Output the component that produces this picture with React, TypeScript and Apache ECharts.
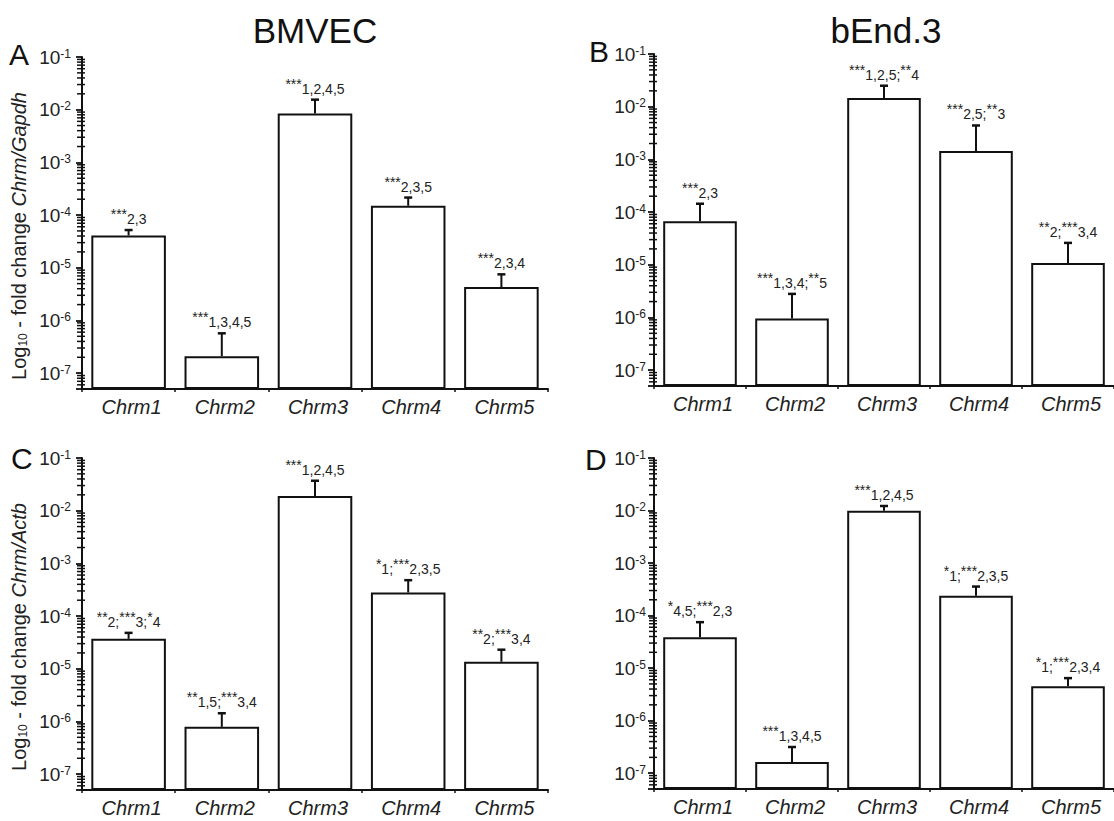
import React, { useEffect, useRef } from 'react';
import * as echarts from 'echarts';

const categories = ['Chrm1', 'Chrm2', 'Chrm3', 'Chrm4', 'Chrm5'];
const yMin = 5e-8;
const yMax = 0.1;
const minorMultipliers = [2, 3, 4, 5, 6, 7, 8, 9];
const decadeExponents = [-8, -7, -6, -5, -4, -3, -2];

// Panel A: BMVEC, Chrm/Gapdh
const meanA = [4.1e-5, 2.1e-7, 8.5e-3, 1.5e-4, 4.3e-6];
const upperA = [5.2e-5, 5.7e-7, 1.55e-2, 2.15e-4, 7.5e-6];
const sigA = ['***2,3', '***1,3,4,5', '***1,2,4,5', '***2,3,5', '***2,3,4'];

// Panel B: bEnd.3, Chrm/Gapdh
const meanB = [6.7e-5, 9.6e-7, 1.46e-2, 1.44e-3, 1.08e-5];
const upperB = [1.44e-4, 2.8e-6, 2.5e-2, 4.4e-3, 2.6e-5];
const sigB = ['***2,3', '***1,3,4;**5', '***1,2,5;**4', '***2,5;**3', '**2;***3,4'];

// Panel C: BMVEC, Chrm/Actb
const meanC = [3.7e-5, 7.9e-7, 1.9e-2, 2.8e-4, 1.36e-5];
const upperC = [4.8e-5, 1.43e-6, 3.7e-2, 4.8e-4, 2.3e-5];
const sigC = ['**2;***3;*4', '**1,5;***3,4', '***1,2,4,5', '*1;***2,3,5', '**2;***3,4'];

// Panel D: bEnd.3, Chrm/Actb
const meanD = [3.85e-5, 1.63e-7, 9.95e-3, 2.38e-4, 4.5e-6];
const upperD = [7.5e-5, 3.15e-7, 1.22e-2, 3.57e-4, 6.45e-6];
const sigD = ['*4,5;***2,3', '***1,3,4,5', '***1,2,4,5', '*1;***2,3,5', '*1;***2,3,4'];

const titles = ['BMVEC', 'bEnd.3'];
const panelLetters = ['A', 'B', 'C', 'D'];
const yTitleRefs = ['Gapdh', 'Actb'];

const FONT = '"Liberation Sans", Arial, Helvetica, sans-serif';
const INK = '#111';
const TXT = '#222';

const panels = [
  { grid: { left: 82, top: 57, width: 466, height: 332 }, mean: meanA, upper: upperA, sig: sigA, labelMargin: 11 },
  { grid: { left: 654, top: 54, width: 466, height: 332 }, mean: meanB, upper: upperB, sig: sigB, labelMargin: 8 },
  { grid: { left: 82, top: 458, width: 466, height: 332 }, mean: meanC, upper: upperC, sig: sigC, labelMargin: 11 },
  { grid: { left: 654, top: 458, width: 466, height: 331 }, mean: meanD, upper: upperD, sig: sigD, labelMargin: 8 },
];

function sigRich(s: string): string {
  return s.replace(/(\*+)|([^*]+)/g, (_m: string, st: string, nu: string) => (st ? `{s|${st}}` : `{n|${nu}}`));
}

const minorValues: number[] = [];
decadeExponents.forEach((e) => {
  minorMultipliers.forEach((m) => {
    const v = m * Math.pow(10, e);
    if (v > yMin * 1.0001 && v < yMax) minorValues.push(v);
  });
});

function buildGraphic(): any[] {
  const graphic: any[] = [];
  graphic.push({ type: 'text', x: 315, y: 30, style: { text: titles[0], fontSize: 35, fontFamily: FONT, fill: INK, align: 'center', verticalAlign: 'middle' } });
  graphic.push({ type: 'text', x: 886, y: 30, style: { text: titles[1], fontSize: 35, fontFamily: FONT, fill: INK, align: 'center', verticalAlign: 'middle' } });
  const letterPos = [
    [9, 54],
    [589, 51],
    [11, 458],
    [585, 459],
  ];
  panelLetters.forEach((L, i) => {
    graphic.push({ type: 'text', x: letterPos[i][0], y: letterPos[i][1], style: { text: L, fontSize: 30, fontFamily: FONT, fill: INK, align: 'left', verticalAlign: 'middle' } });
  });
  [0, 2].forEach((pi, k) => {
    const g = panels[pi].grid;
    graphic.push({
      type: 'text',
      x: 19,
      y: g.top + g.height / 2 + 13,
      rotation: Math.PI / 2,
      style: {
        text: `{n|Log}{s|10}{n| - fold change }{i|Chrm/${yTitleRefs[k]}}`,
        align: 'center',
        verticalAlign: 'middle',
        fill: TXT,
        fontSize: 20,
        fontFamily: FONT,
        rich: {
          n: { fontSize: 20, lineHeight: 20, verticalAlign: 'top', fill: TXT, fontFamily: FONT },
          i: { fontSize: 20, lineHeight: 20, verticalAlign: 'top', fill: TXT, fontFamily: FONT, fontStyle: 'italic' },
          s: { fontSize: 12, lineHeight: 12, verticalAlign: 'bottom', fill: TXT, fontFamily: FONT },
        },
      },
    });
  });
  return graphic;
}

function buildOption() {
  const grids = panels.map((p) => ({ ...p.grid, containLabel: false }));
  const xAxes: any[] = [];
  panels.forEach((_p, i) => {
    xAxes.push({
      type: 'category',
      gridIndex: i,
      data: categories,
      position: 'bottom',
      axisLine: { onZero: false, lineStyle: { color: INK, width: 2 } },
      axisTick: { alignWithLabel: true, length: 5, lineStyle: { color: INK, width: 1.5 } },
      axisLabel: { fontSize: 20, fontStyle: 'italic', color: TXT, margin: 8, fontFamily: FONT, padding: [0, 0, 0, 6] },
    });
  });
  panels.forEach((_p, i) => {
    xAxes.push({
      type: 'category',
      gridIndex: i,
      data: categories,
      position: 'bottom',
      axisLine: { show: false, onZero: false },
      axisTick: { show: true, length: 3, lineStyle: { color: INK, width: 1.5 } },
      axisLabel: { show: false },
    });
  });
  const yAxes = panels.map((p, i) => ({
    type: 'log',
    logBase: 10,
    gridIndex: i,
    min: yMin,
    max: yMax,
    startValue: yMin,
    axisLine: { show: true, lineStyle: { color: INK, width: 2 } },
    axisTick: { show: true, length: 6, lineStyle: { color: INK, width: 1.8 } },
    splitLine: { show: false },
    axisLabel: {
      margin: p.labelMargin,
      color: TXT,
      fontFamily: FONT,
      fontSize: 19,
      formatter: (v: number) => {
        const l = Math.log10(v);
        const e = Math.round(l);
        if (Math.abs(l - e) > 1e-6) return '';
        return `{b|10}{e|${e}}`;
      },
      rich: {
        b: { fontSize: 19, lineHeight: 19, verticalAlign: 'bottom', color: TXT, fontFamily: FONT },
        e: { fontSize: 12, lineHeight: 9, verticalAlign: 'top', color: TXT, fontFamily: FONT },
      },
    },
  }));

  const series: any[] = [];
  panels.forEach((p, i) => {
    series.push({
      type: 'bar',
      xAxisIndex: i,
      yAxisIndex: i,
      data: p.mean,
      barWidth: '80%',
      silent: true,
      itemStyle: { color: '#fff', borderColor: INK, borderWidth: 2 },
    });
    series.push({
      type: 'custom',
      xAxisIndex: i,
      yAxisIndex: i,
      silent: true,
      clip: false,
      z: 10,
      data: p.mean.map((m, j) => [j, m, p.upper[j]]),
      encode: { x: 0, y: [1, 2] },
      renderItem: (_params: any, api: any) => {
        const j = api.value(0);
        const base = api.coord([j, api.value(1)]);
        const top = api.coord([j, api.value(2)]);
        const cap = 4;
        return {
          type: 'group',
          children: [
            { type: 'line', shape: { x1: base[0], y1: base[1], x2: top[0], y2: top[1] }, style: { stroke: INK, lineWidth: 2 } },
            { type: 'line', shape: { x1: top[0] - cap, y1: top[1], x2: top[0] + cap, y2: top[1] }, style: { stroke: INK, lineWidth: 2.5 } },
            {
              type: 'text',
              x: top[0],
              y: top[1] - 4,
              style: {
                text: sigRich(p.sig[j]),
                align: 'center',
                verticalAlign: 'bottom',
                fill: TXT,
                fontSize: 14,
                fontFamily: FONT,
                rich: {
                  s: { fontSize: 14, lineHeight: 9, verticalAlign: 'top', fill: TXT, fontFamily: FONT },
                  n: { fontSize: 14, lineHeight: 19, verticalAlign: 'bottom', fill: TXT, fontFamily: FONT },
                },
              },
            },
          ],
        };
      },
    });
  });

  return {
    animation: false,
    backgroundColor: '#ffffff',
    grid: grids,
    xAxis: xAxes,
    yAxis: yAxes,
    series,
    graphic: buildGraphic(),
  };
}

export default function App() {
  const ref = useRef<HTMLDivElement>(null);
  useEffect(() => {
    if (!ref.current) return;
    const chart = echarts.init(ref.current, undefined, { renderer: 'svg' });
    chart.setOption(buildOption() as any);
    // log-spaced minor ticks, placed through the y axes' own scales
    const ticks: any[] = [];
    panels.forEach((p, i) => {
      const x0 = p.grid.left;
      minorValues.forEach((v) => {
        const y = chart.convertToPixel({ yAxisIndex: i } as any, v) as any;
        if (typeof y === 'number' && isFinite(y)) {
          ticks.push({
            type: 'line',
            silent: true,
            z: 10,
            shape: { x1: x0 - 5, y1: y, x2: x0 + 3, y2: y },
            style: { stroke: INK, lineWidth: 1.5 },
          });
        }
      });
    });
    chart.setOption({ graphic: [...buildGraphic(), ...ticks] } as any);
    return () => chart.dispose();
  }, []);
  return <div ref={ref} style={{ position: 'absolute', left: 0, top: 0, width: 1114, height: 821, background: '#fff' }} />;
}
